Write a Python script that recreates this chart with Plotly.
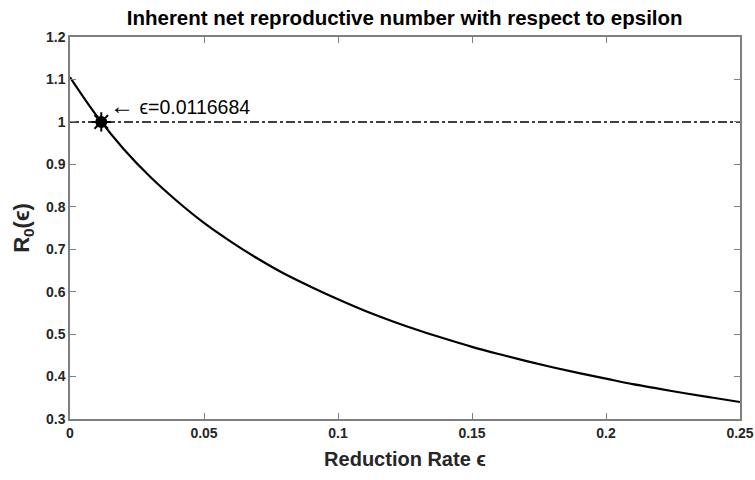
import plotly.graph_objects as go

eps = [0, 0.01, 0.02, 0.03, 0.04, 0.05, 0.06, 0.07, 0.08, 0.09, 0.10, 0.11, 0.12,
       0.13, 0.14, 0.15, 0.16, 0.17, 0.18, 0.19, 0.20, 0.21, 0.22, 0.23, 0.24, 0.25]
r0 = [1.105, 1.014, 0.936, 0.870, 0.813, 0.762, 0.718, 0.678, 0.642, 0.611, 0.582,
      0.555, 0.531, 0.509, 0.489, 0.470, 0.453, 0.437, 0.422, 0.408, 0.395, 0.382,
      0.371, 0.360, 0.350, 0.340]
eps_star = 0.0116684
r0_star = 1.0
threshold = 1.0
x_ticks = [0, 0.05, 0.1, 0.15, 0.2, 0.25]
x_labels = ["0", "0.05", "0.1", "0.15", "0.2", "0.25"]
y_ticks = [0.3, 0.4, 0.5, 0.6, 0.7, 0.8, 0.9, 1.0, 1.1, 1.2]
y_labels = ["0.3", "0.4", "0.5", "0.6", "0.7", "0.8", "0.9", "1", "1.1", "1.2"]

FONT = "Liberation Sans, Arial, sans-serif"

fig = go.Figure()
fig.add_trace(go.Scatter(x=[x_ticks[0], x_ticks[-1]], y=[threshold, threshold], mode="lines",
                         line=dict(color="black", width=1.5, dash="dashdot"), hoverinfo="skip"))
fig.add_trace(go.Scatter(x=eps, y=r0, mode="lines", line=dict(color="black", width=2.2, shape="spline")))
fig.add_trace(go.Scatter(x=[eps_star], y=[r0_star], mode="markers",
                         marker=dict(symbol="circle", size=12, color="black")))
fig.add_trace(go.Scatter(x=[eps_star], y=[r0_star], mode="markers",
                         marker=dict(symbol="asterisk-open", size=16, color="black",
                                     line=dict(color="black", width=2))))

fig.add_annotation(x=eps_star, y=r0_star, xref="x", yref="y",
                   text="<span style='font-size:24px'>\u2190</span> \u03f5=0.0116684", showarrow=False,
                   xanchor="left", yanchor="middle", xshift=7, yshift=16,
                   font=dict(family=FONT, size=19.5, color="black"))

axis_common = dict(showline=True, linecolor="#7f7f7f", linewidth=1.5, mirror="ticks",
                   ticks="inside", ticklen=6, tickcolor="#7f7f7f", tickwidth=1,
                   showgrid=False, zeroline=False, automargin=False,
                   tickfont=dict(family=FONT, size=14, color="#262626"))

fig.update_layout(
    width=755, height=480,
    margin=dict(l=70, r=15, t=37, b=61),
    paper_bgcolor="white", plot_bgcolor="white",
    showlegend=False,
    title=dict(text="<b>Inherent net reproductive number with respect to epsilon</b>",
               x=0.536, xanchor="center", y=0.9625, yanchor="middle",
               font=dict(family=FONT, size=20.5, color="black")),
    xaxis=dict(range=[0, 0.25], tickvals=x_ticks, ticktext=["<b>%s</b>" % t for t in x_labels],
               title=dict(text="<b>Reduction Rate \u03f5</b>", standoff=12,
                          font=dict(family=FONT, size=20, color="#262626")),
               **axis_common),
    yaxis=dict(range=[0.3, 1.2], tickvals=y_ticks, ticktext=["<b>%s</b>" % t for t in y_labels],
               title=dict(text="<b>R<sub>0</sub>(\u03f5)</b>", standoff=10,
                          font=dict(family=FONT, size=22, color="#262626")),
               **axis_common),
)

fig.write_html("out.html", config={"displayModeBar": False},
               post_script="document.body.style.margin='0';document.body.style.overflow='hidden';")
